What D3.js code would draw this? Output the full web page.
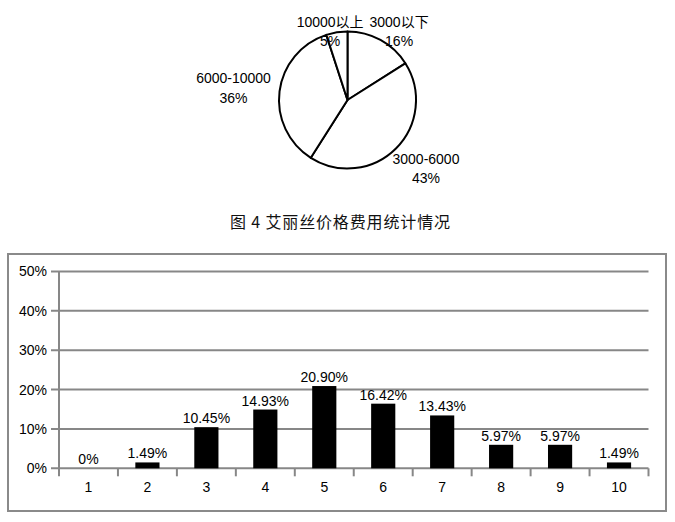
<!DOCTYPE html>
<html lang="en">
<head>
<meta charset="UTF-8">
<title>艾丽丝价格费用统计情况</title>
<script src="https://d3js.org/d3.v7.min.js"></script>
<style>
    body { margin: 0; background: #fff; }
    svg text { font-family: "Liberation Sans", "Noto Sans CJK SC", sans-serif; fill: #000; }
    #title { font-family: "Noto Sans CJK SC", sans-serif; }
</style>
</head>
<body>
<svg id="chart" width="675" height="522"></svg>

<script>
    // pie data (price ranges)
    const pieLabels = ["3000以下", "3000-6000", "6000-10000", "10000以上"];
    const pieValues = [16, 43, 36, 5];

    // bar data
    const barCategories = ["1", "2", "3", "4", "5", "6", "7", "8", "9", "10"];
    const barValues = [0, 1.49, 10.45, 14.93, 20.90, 16.42, 13.43, 5.97, 5.97, 1.49];
    const barLabels = ["0%", "1.49%", "10.45%", "14.93%", "20.90%", "16.42%", "13.43%", "5.97%", "5.97%", "1.49%"];
    const yTicks = [0, 10, 20, 30, 40, 50];

    const titleText = "图 4 艾丽丝价格费用统计情况";

    const svg = d3.select("#chart");

    // PIE
    const cx = 347.5, cy = 100, radius = 68.5;
    const pieG = svg.append("g").attr("transform", `translate(${cx},${cy})`);

    const pie = d3.pie().sort(null).startAngle(0).endAngle(2 * Math.PI);
    const arcs = pie(pieValues);
    const arc = d3.arc().innerRadius(0).outerRadius(radius);

    pieG.selectAll("path")
        .data(arcs)
        .enter()
        .append("path")
        .attr("d", arc)
        .attr("fill", "#fff")
        .attr("stroke", "#000")
        .attr("stroke-width", 2)
        .attr("stroke-linejoin", "round");

    // labels sit just outside the edge, pushed away along the mid angle
    const lineH = 19.5;
    arcs.forEach((d, i) => {
        const a = (d.startAngle + d.endAngle) / 2;
        const g = pieG.append("g");
        const t1 = g.append("text").attr("text-anchor", "middle").style("font-size", "14px").text(pieLabels[i]);
        const t2 = g.append("text").attr("text-anchor", "middle").style("font-size", "14px").text(pieValues[i] + "%");
        const w = Math.max(t1.node().getComputedTextLength(), t2.node().getComputedTextLength());
        const h = lineH * 2;
        const px = Math.sin(a) * (radius + 9);
        const py = -Math.cos(a) * (radius + 9);
        let bx = px + Math.sin(a) * w / 2;
        let by = py - Math.cos(a) * h / 2;
        // keep inside top of chart area
        const minTop = 12 - cy;
        if (by - h / 2 < minTop) by = minTop + h / 2;
        t1.attr("x", bx).attr("y", by - lineH / 2).attr("dy", "0.35em");
        t2.attr("x", bx).attr("y", by + lineH / 2).attr("dy", "0.35em");
    });

    // TITLE
    svg.append("text")
        .attr("id", "title")
        .attr("x", 340)
        .attr("y", 222)
        .attr("dy", "0.35em")
        .attr("text-anchor", "middle")
        .attr("textLength", 220)
        .attr("lengthAdjust", "spacing")
        .style("font-size", "16px")
        .style("fill", "#111")
        .text(titleText);

    // BAR CHART
    const frame = { left: 8, top: 254, right: 666, bottom: 511 };
    svg.append("rect")
        .attr("x", frame.left)
        .attr("y", frame.top)
        .attr("width", frame.right - frame.left)
        .attr("height", frame.bottom - frame.top)
        .attr("fill", "none")
        .attr("stroke", "#8a8a8a")
        .attr("stroke-width", 2);

    const plot = { left: 59, right: 648.5, top: 271.5, bottom: 468.3 };
    const gridColor = "#878787";

    const x = d3.scaleBand()
        .domain(barCategories)
        .range([plot.left, plot.right])
        .paddingInner(0.59)
        .paddingOuter(0.295);
    const y = d3.scaleLinear()
        .domain([0, 50])
        .range([plot.bottom, plot.top]);

    // gridlines (with small ticks left of the axis)
    svg.selectAll(".grid")
        .data(yTicks)
        .enter()
        .append("line")
        .attr("class", "grid")
        .attr("x1", plot.left - 8)
        .attr("x2", plot.right)
        .attr("y1", d => y(d))
        .attr("y2", d => y(d))
        .attr("stroke", gridColor)
        .attr("stroke-width", 2);

    // y axis labels
    const yAxis = d3.axisLeft(y)
        .tickValues(yTicks)
        .tickFormat(d => d + "%")
        .tickSize(0)
        .tickPadding(12);
    const yG = svg.append("g")
        .attr("transform", `translate(${plot.left},0)`)
        .call(yAxis);
    yG.select(".domain").remove();
    yG.selectAll("text").style("font-size", "14px").style("font-family", null);

    // y axis line
    svg.append("line")
        .attr("x1", plot.left).attr("x2", plot.left)
        .attr("y1", y(50)).attr("y2", y(0))
        .attr("stroke", gridColor)
        .attr("stroke-width", 2);

    // x category boundary ticks
    const step = x.step();
    const bounds = d3.range(barCategories.length + 1).map(i => plot.left + i * step);
    svg.selectAll(".xtick")
        .data(bounds)
        .enter()
        .append("line")
        .attr("class", "xtick")
        .attr("x1", d => d).attr("x2", d => d)
        .attr("y1", y(0)).attr("y2", y(0) + 8)
        .attr("stroke", gridColor)
        .attr("stroke-width", 2);

    // x labels
    const xAxis = d3.axisBottom(x).tickSize(0).tickPadding(14);
    const xG = svg.append("g")
        .attr("transform", `translate(0,${y(0)})`)
        .call(xAxis);
    xG.select(".domain").remove();
    xG.selectAll("text").style("font-size", "14px").style("font-family", null);

    // bars
    svg.selectAll(".bar")
        .data(barValues)
        .enter()
        .append("rect")
        .attr("class", "bar")
        .attr("x", (d, i) => x(barCategories[i]))
        .attr("y", d => y(d))
        .attr("width", x.bandwidth())
        .attr("height", d => y(0) - y(d))
        .attr("fill", "#000");

    // value labels
    svg.selectAll(".vlabel")
        .data(barValues)
        .enter()
        .append("text")
        .attr("class", "vlabel")
        .attr("x", (d, i) => x(barCategories[i]) + x.bandwidth() / 2)
        .attr("y", d => y(d) - 4)
        .attr("text-anchor", "middle")
        .style("font-size", "14px")
        .text((d, i) => barLabels[i]);
</script>
</body>
</html>
